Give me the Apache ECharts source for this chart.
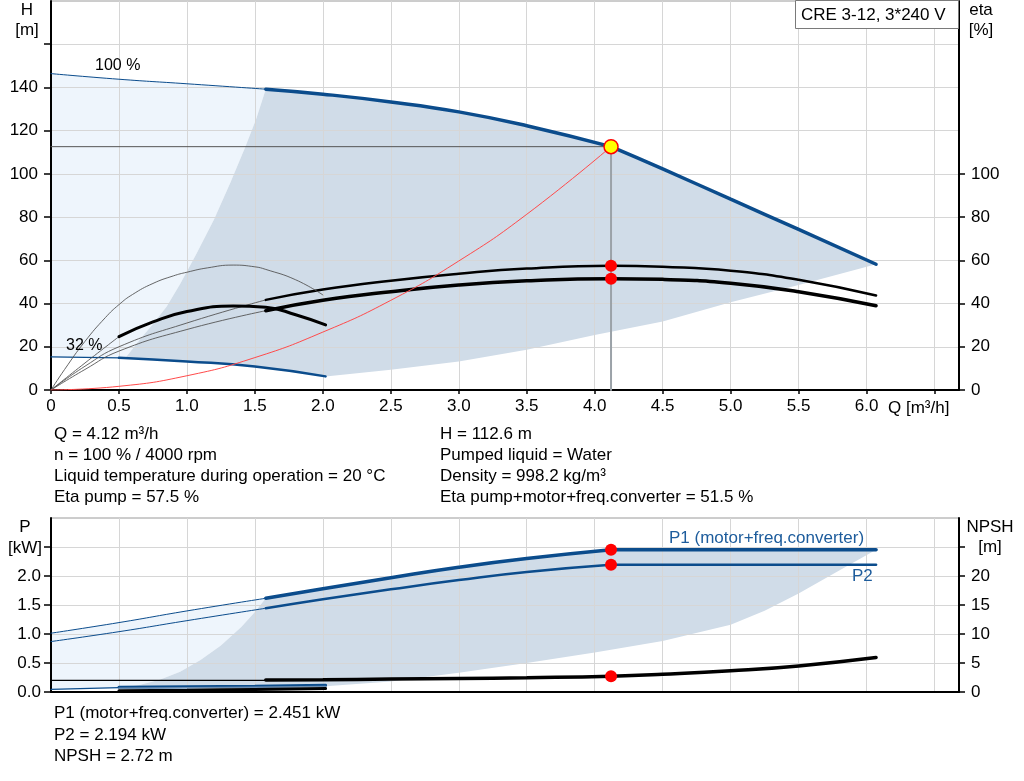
<!DOCTYPE html>
<html><head><meta charset="utf-8">
<script src="https://cdn.jsdelivr.net/npm/echarts@6/dist/echarts.min.js"></script>
<style>html,body{margin:0;padding:0;background:#fff}#c{width:1024px;height:781px}</style>
</head><body><div id="c"></div>
<script>
// ---------- axis ticks / labels ----------
const qTicks = [0,0.5,1,1.5,2,2.5,3,3.5,4,4.5,5,5.5,6,6.5];
const qLabels = [0,0.5,1,1.5,2,2.5,3,3.5,4,4.5,5,5.5,6];
const hTicks = [0,20,40,60,80,100,120,140,160];
const hLabels = [0,20,40,60,80,100,120,140];
const etaTicks = [0,20,40,60,80,100];
const etaLabels = [0,20,40,60,80,100];
const pTicks = [0,0.5,1,1.5,2,2.5];
const pLabels = [0,0.5,1,1.5,2];
const npshTicks = [0,5,10,15,20,25];
const npshLabels = [0,5,10,15,20];

// ---------- duty point ----------
const opQ = 4.12, opH = 112.6, opEtaP = 57.5, opEtaT = 51.5, opP1 = 2.451, opP2 = 2.194, opNPSH = 2.72;

// ---------- head curves ----------
const qH100Thin = [0,0.5,1.0,1.58];
const h100Thin  = [146.4,143.8,141.7,139.2];
const qH100 = [1.58,2.0,2.5,3.0,3.5,4.12];
const h100  = [139.2,136.9,133.3,128.7,122.3,112.6];
const qH100Max = [4.12,4.5,5.0,5.5,6.07];
const h100Max  = [112.6,102.3,88.3,74.3,58.2];
const qH32Thin = [0,0.5];
const h32Thin  = [15.3,14.9];
const qH32 = [0.5,1.0,1.5,2.02];
const h32  = [14.9,13.2,10.9,6.3];
const qSys = [0,0.5,1.0,1.5,2.0,2.5,3.0,3.5,4.12];
const hSys = [0,1.7,6.6,15,26.8,41.5,59.7,81.3,112.6];

// ---------- efficiency curves ----------
const qEtaP100Thin = [0,0.25,0.5,1.0,1.58];
const etaP100Thin  = [0,11,20,31,41.7];
const qEtaT100Thin = [0,0.25,0.5,1.0,1.58];
const etaT100Thin  = [0,9.5,18,28,36.7];
const qEta100 = [1.58,2.0,2.5,3.0,3.5,4.12,4.5,5.0,5.5,6.07];
const etaP100 = [41.7,46.5,50.6,53.8,56.2,57.5,57.0,55.2,51.0,43.7];
const etaT100 = [36.7,41.5,45.5,48.6,50.5,51.5,51.2,49.4,45.5,39.0];
const qEtaPLow = [0,0.1,0.25,0.4,0.5,0.6,0.75,0.9,1.0,1.15,1.34,1.5,1.58,1.8,2.0];
const etaPLow  = [0,9.5,22.5,33.5,39.5,44.2,49.3,52.8,54.5,56.5,57.8,57.0,55.8,51.0,44.0];
const qEtaTLowThin = [0,0.25,0.5];
const etaTLowThin  = [0,12.5,24.7];
const qEtaTLow = [0.5,0.75,1.0,1.34,1.58,1.8,2.02];
const etaTLow  = [24.7,31.5,36.3,38.9,38.3,34.8,30.1];

// ---------- head-chart shaded areas ----------
const qAreaLeft = [0.55,0.65,0.75,0.85,0.95,1.07,1.2,1.32,1.43,1.51,1.58];
const hAreaLeft = [15.0,23,30.5,38.5,49,63,79,96,112.6,125.5,139.2];
const qAreaLow = [6.07,5.5,5.0,4.5,4.0,3.5,3.0,2.5,2.02];
const hAreaLow = [58.2,48.6,40.6,31.7,25.5,18.6,13.2,9.4,6.3];

// ---------- power / NPSH curves ----------
const qP1Thin = [0,0.5,1.0,1.58];
const p1Thin  = [1.014,1.197,1.398,1.616];
const qP1 = [1.58,2.0,2.5,3.0,3.5,4.12];
const p1  = [1.616,1.78,1.97,2.15,2.30,2.451];
const qP1Flat = [4.12,6.07];
const p1Flat  = [2.451,2.451];
const qP2Thin = [0,0.5,1.0,1.58];
const p2Thin  = [0.87,1.04,1.23,1.444];
const qP2 = [1.58,2.0,2.5,3.0,3.5,4.12];
const p2  = [1.444,1.60,1.77,1.93,2.07,2.194];
const qP2Flat = [4.12,6.07];
const p2Flat  = [2.194,2.194];
const qP1LowThin = [0,0.5];
const p1LowThin  = [0.045,0.075];
const qP1Low = [0.5,1.0,1.5,2.02];
const p1Low  = [0.08,0.09,0.10,0.115];
const qP2Low = [0.5,1.0,1.5,2.02];
const p2Low  = [0.065,0.072,0.082,0.095];
const qNpshThin = [0,1.58];
const npshThin  = [2.0,2.0];
const qNpsh = [1.58,2.0,2.5,3.0,3.5,4.12,4.5,5.0,5.5,6.07];
const npsh  = [2.05,2.12,2.22,2.33,2.47,2.72,3.05,3.65,4.5,5.95];
const qNpshLow = [0.5,1.0,1.5,2.02];
const npshLow  = [0.2,0.3,0.45,0.6];

// ---------- power-chart shaded areas ----------
const qPAreaLeft = [0.5,0.65,0.8,0.95,1.1,1.25,1.4,1.5,1.58];
const pAreaLeft  = [0.06,0.12,0.21,0.35,0.55,0.80,1.12,1.38,1.616];
const qPAreaLow = [6.07,5.75,5.5,5.25,5.0,4.5,4.0,3.5,3.0,2.5,2.02];
const pAreaLow  = [2.451,2.03,1.70,1.40,1.16,0.88,0.68,0.5,0.33,0.18,0.1];

// ---------- helpers ----------
const FONT = '"Liberation Sans", Arial, sans-serif';
const BLUE = '#0b4c8c';
const GREY_FILL = '#d0dce8';
const LIGHT_FILL = '#eef5fc';
const pts = (qs, vs) => qs.map((q, i) => [q, vs[i]]);
const rev = a => a.slice().reverse();

function line(qs, vs, color, width, xi, yi, z, smooth) {
  return { type: 'line', xAxisIndex: xi, yAxisIndex: yi, data: pts(qs, vs),
    smooth: smooth === undefined ? 0.5 : smooth, showSymbol: false, symbol: 'none',
    lineStyle: { color: color, width: width, cap: 'round' }, z: z || 3, silent: true };
}
function poly(qs, vs, fill, xi, yi, z) {
  return { type: 'custom', xAxisIndex: xi, yAxisIndex: yi, data: [pts(qs, vs)[0]], z: z, silent: true,
    renderItem: function (params, api) {
      return { type: 'polygon', shape: { points: qs.map((q, i) => api.coord([q, vs[i]])) },
        style: { fill: fill, stroke: null } };
    } };
}
function dots(list, xi, yi, size, color, border) {
  return { type: 'scatter', xAxisIndex: xi, yAxisIndex: yi, data: list, symbolSize: size, z: 10, silent: true,
    itemStyle: { color: color, borderColor: border || color, borderWidth: border ? 1.5 : 0, opacity: 1 } };
}

// polygons
const topLightQ = [0].concat(qH100Thin, rev(qAreaLeft), rev(qH32Thin));
const topLightV = [15.3].concat(h100Thin, rev(hAreaLeft), rev(h32Thin));
const topGreyQ = qAreaLeft.concat(qH100, qH100Max.slice(1), qAreaLow.slice(1), rev(qH32).slice(1), [0.55]);
const topGreyV = hAreaLeft.concat(h100, h100Max.slice(1), hAreaLow.slice(1), rev(h32).slice(1), [15.0]);
const botLightQ = [0].concat(qP1Thin, rev(qPAreaLeft), rev(qP1LowThin));
const botLightV = [0.045].concat(p1Thin, rev(pAreaLeft), rev(p1LowThin));
const botGreyQ = qPAreaLeft.concat(qP1, qPAreaLow, rev(qP1Low));
const botGreyV = pAreaLeft.concat(p1, pAreaLow, rev(p1Low));

const labelFmt1 = v => v === 0 ? '0' : v.toFixed(1);
const axisLineStyle = { lineStyle: { color: '#000', width: 2 } };
const tickStyle = { lineStyle: { color: '#000', width: 1.5 } };
const splitStyle = { show: true, lineStyle: { color: '#d6d6d6', width: 1 } };
const lblStyle = { color: '#000', fontSize: 17, fontFamily: FONT };

const option = {
  animation: false,
  textStyle: { fontFamily: FONT },
  grid: [
    { left: 51, top: 1, width: 908, height: 389, show: true, borderColor: '#9a9a9a', borderWidth: 1, backgroundColor: 'transparent' },
    { left: 51, top: 518, width: 908, height: 174, show: true, borderColor: '#9a9a9a', borderWidth: 1, backgroundColor: 'transparent' }
  ],
  xAxis: [
    { gridIndex: 0, type: 'value', min: 0, max: 6.68, interval: 0.5,
      axisLine: axisLineStyle, axisTick: Object.assign({ show: true, length: 4, customValues: qTicks }, tickStyle),
      axisLabel: Object.assign({ customValues: qLabels, formatter: labelFmt1, margin: 8 }, lblStyle),
      splitLine: splitStyle },
    { gridIndex: 1, type: 'value', min: 0, max: 6.68, interval: 0.5,
      axisLine: axisLineStyle, axisTick: { show: false, customValues: qTicks },
      axisLabel: { show: false }, splitLine: splitStyle }
  ],
  yAxis: [
    { gridIndex: 0, type: 'value', position: 'left', min: 0, max: 180, interval: 20,
      axisLine: Object.assign({ show: true }, axisLineStyle),
      axisTick: Object.assign({ show: true, length: 7, customValues: hTicks }, tickStyle),
      axisLabel: Object.assign({ customValues: hLabels, margin: 13 }, lblStyle), splitLine: splitStyle },
    { gridIndex: 0, type: 'value', position: 'right', min: 0, max: 180, interval: 20,
      axisLine: Object.assign({ show: true }, axisLineStyle),
      axisTick: Object.assign({ show: true, length: 6, customValues: etaTicks }, tickStyle),
      axisLabel: Object.assign({ customValues: etaLabels, margin: 12 }, lblStyle), splitLine: { show: false } },
    { gridIndex: 1, type: 'value', position: 'left', min: 0, max: 3, interval: 0.5,
      axisLine: Object.assign({ show: true }, axisLineStyle),
      axisTick: Object.assign({ show: true, length: 7, customValues: pTicks }, tickStyle),
      axisLabel: Object.assign({ customValues: pLabels, formatter: v => v.toFixed(1), margin: 10 }, lblStyle), splitLine: splitStyle },
    { gridIndex: 1, type: 'value', position: 'right', min: 0, max: 30, interval: 5,
      axisLine: Object.assign({ show: true }, axisLineStyle),
      axisTick: Object.assign({ show: true, length: 6, customValues: npshTicks }, tickStyle),
      axisLabel: Object.assign({ customValues: npshLabels, margin: 12 }, lblStyle), splitLine: { show: false } }
  ],
  series: [
    // top areas
    poly(topLightQ, topLightV, LIGHT_FILL, 0, 0, -2),
    poly(topGreyQ, topGreyV, GREY_FILL, 0, 0, -1),
    // head curves
    line(qH100Thin, h100Thin, BLUE, 1, 0, 0, 4),
    line(qH100, h100, BLUE, 3.5, 0, 0, 4),
    line(qH100Max, h100Max, BLUE, 3.5, 0, 0, 4),
    line(qH32Thin, h32Thin, BLUE, 1.2, 0, 0, 4),
    line(qH32, h32, BLUE, 2.5, 0, 0, 4),
    line(qSys, hSys, '#ff4a4a', 1, 0, 0, 5),
    // duty point guide lines
    line([0, opQ], [opH, opH], '#555', 1, 0, 0, 3, false),
    line([opQ, opQ], [opH, 0], '#9ba2a8', 2, 0, 0, 3, false),
    // efficiency curves
    line(qEtaP100Thin, etaP100Thin, '#555', 0.9, 0, 1, 4),
    line(qEtaT100Thin, etaT100Thin, '#555', 0.9, 0, 1, 4),
    line(qEta100, etaP100, '#000', 2.5, 0, 1, 4),
    line(qEta100, etaT100, '#000', 3.5, 0, 1, 4),
    line(qEtaPLow, etaPLow, '#555', 0.9, 0, 1, 4),
    line(qEtaTLowThin, etaTLowThin, '#555', 0.9, 0, 1, 4),
    line(qEtaTLow, etaTLow, '#000', 3, 0, 1, 4),
    dots([[opQ, opEtaP], [opQ, opEtaT]], 0, 1, 12, '#ff0000'),
    dots([[opQ, opH]], 0, 0, 14, '#ffff00', '#ff0000'),
    // bottom areas
    poly(botLightQ, botLightV, LIGHT_FILL, 1, 2, -2),
    poly(botGreyQ, botGreyV, GREY_FILL, 1, 2, -1),
    // power curves
    line(qP1Thin, p1Thin, BLUE, 1, 1, 2, 4),
    line(qP1, p1, BLUE, 3.5, 1, 2, 4),
    line(qP1Flat, p1Flat, BLUE, 3.5, 1, 2, 4, false),
    line(qP2Thin, p2Thin, BLUE, 1, 1, 2, 4),
    line(qP2, p2, BLUE, 2.5, 1, 2, 4),
    line(qP2Flat, p2Flat, BLUE, 2.5, 1, 2, 4, false),
    line(qP1LowThin, p1LowThin, BLUE, 1.2, 1, 2, 4),
    line(qP1Low, p1Low, BLUE, 3, 1, 2, 4),
    line(qP2Low, p2Low, '#6d8fb3', 1.5, 1, 2, 4),
    // NPSH
    line(qNpshThin, npshThin, '#000', 1.3, 1, 3, 4, false),
    line(qNpsh, npsh, '#000', 3.5, 1, 3, 4),
    line(qNpshLow, npshLow, '#000', 3, 1, 3, 4),
    dots([[opQ, opP1], [opQ, opP2]], 1, 2, 12, '#ff0000'),
    dots([[opQ, opNPSH]], 1, 3, 12, '#ff0000')
  ],
  graphic: [
    { type: 'rect', z: 100, shape: { x: 795.5, y: 0.5, width: 163, height: 28 }, style: { fill: '#fff', stroke: '#7a7a7a', lineWidth: 1 } },
    { type: 'text', z: 101, x: 801, y: 15, style: { text: 'CRE 3-12, 3*240 V', font: '17px ' + FONT, fill: '#000', textVerticalAlign: 'middle' } },
    { type: 'text', z: 101, x: 27, y: 10, style: { text: 'H', font: '17px ' + FONT, fill: '#000', textAlign: 'center', textVerticalAlign: 'middle' } },
    { type: 'text', z: 101, x: 27, y: 30, style: { text: '[m]', font: '17px ' + FONT, fill: '#000', textAlign: 'center', textVerticalAlign: 'middle' } },
    { type: 'text', z: 101, x: 981, y: 10, style: { text: 'eta', font: '17px ' + FONT, fill: '#000', textAlign: 'center', textVerticalAlign: 'middle' } },
    { type: 'text', z: 101, x: 981, y: 30, style: { text: '[%]', font: '17px ' + FONT, fill: '#000', textAlign: 'center', textVerticalAlign: 'middle' } },
    { type: 'text', z: 101, x: 888, y: 408, style: { text: 'Q [m³/h]', font: '17px ' + FONT, fill: '#000', textVerticalAlign: 'middle' } },
    { type: 'text', z: 101, x: 95, y: 66, style: { text: '100 %', font: '16px ' + FONT, fill: '#000', textVerticalAlign: 'middle' } },
    { type: 'text', z: 101, x: 66, y: 346, style: { text: '32 %', font: '16px ' + FONT, fill: '#000', textVerticalAlign: 'middle' } },
    { type: 'text', z: 101, x: 54, y: 434, style: { text: 'Q = 4.12 m³/h', font: '17px ' + FONT, fill: '#000', textVerticalAlign: 'middle' } },
    { type: 'text', z: 101, x: 54, y: 455, style: { text: 'n = 100 % / 4000 rpm', font: '17px ' + FONT, fill: '#000', textVerticalAlign: 'middle' } },
    { type: 'text', z: 101, x: 54, y: 476, style: { text: 'Liquid temperature during operation = 20 °C', font: '17px ' + FONT, fill: '#000', textVerticalAlign: 'middle' } },
    { type: 'text', z: 101, x: 54, y: 497.5, style: { text: 'Eta pump = 57.5 %', font: '17px ' + FONT, fill: '#000', textVerticalAlign: 'middle' } },
    { type: 'text', z: 101, x: 440, y: 434, style: { text: 'H = 112.6 m', font: '17px ' + FONT, fill: '#000', textVerticalAlign: 'middle' } },
    { type: 'text', z: 101, x: 440, y: 455, style: { text: 'Pumped liquid = Water', font: '17px ' + FONT, fill: '#000', textVerticalAlign: 'middle' } },
    { type: 'text', z: 101, x: 440, y: 476, style: { text: 'Density = 998.2 kg/m³', font: '17px ' + FONT, fill: '#000', textVerticalAlign: 'middle' } },
    { type: 'text', z: 101, x: 440, y: 497.5, style: { text: 'Eta pump+motor+freq.converter = 51.5 %', font: '17px ' + FONT, fill: '#000', textVerticalAlign: 'middle' } },
    { type: 'text', z: 101, x: 25, y: 527, style: { text: 'P', font: '17px ' + FONT, fill: '#000', textAlign: 'center', textVerticalAlign: 'middle' } },
    { type: 'text', z: 101, x: 25, y: 548, style: { text: '[kW]', font: '17px ' + FONT, fill: '#000', textAlign: 'center', textVerticalAlign: 'middle' } },
    { type: 'text', z: 101, x: 990, y: 527, style: { text: 'NPSH', font: '17px ' + FONT, fill: '#000', textAlign: 'center', textVerticalAlign: 'middle' } },
    { type: 'text', z: 101, x: 990, y: 547, style: { text: '[m]', font: '17px ' + FONT, fill: '#000', textAlign: 'center', textVerticalAlign: 'middle' } },
    { type: 'text', z: 101, x: 669, y: 538, style: { text: 'P1 (motor+freq.converter)', font: '17px ' + FONT, fill: '#1d5c9c', textVerticalAlign: 'middle' } },
    { type: 'text', z: 101, x: 852, y: 576, style: { text: 'P2', font: '17px ' + FONT, fill: '#1d5c9c', textVerticalAlign: 'middle' } },
    { type: 'text', z: 101, x: 54, y: 713.5, style: { text: 'P1 (motor+freq.converter) = 2.451 kW', font: '17px ' + FONT, fill: '#000', textVerticalAlign: 'middle' } },
    { type: 'text', z: 101, x: 54, y: 735, style: { text: 'P2 = 2.194 kW', font: '17px ' + FONT, fill: '#000', textVerticalAlign: 'middle' } },
    { type: 'text', z: 101, x: 54, y: 756.5, style: { text: 'NPSH = 2.72 m', font: '17px ' + FONT, fill: '#000', textVerticalAlign: 'middle' } }
  ]
};
const chart = echarts.init(document.getElementById('c'), null, { renderer: 'canvas' });
chart.setOption(option);
</script></body></html>
